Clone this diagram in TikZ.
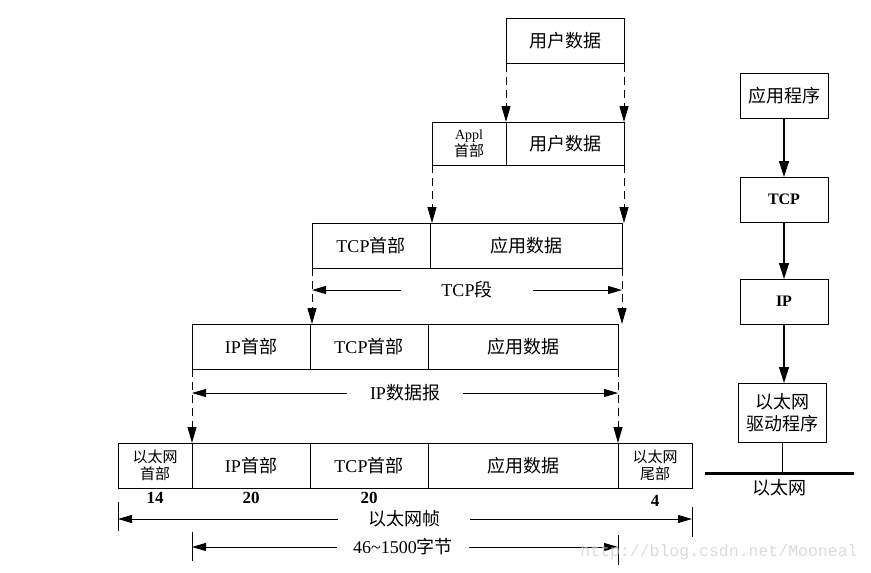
\documentclass[tikz,border=0pt]{standalone}
\usepackage{fontspec}
\setmainfont{Liberation Serif}
\setmonofont{Liberation Mono}
\newfontfamily\cjk{Noto Sans CJK SC}
\newcommand{\zh}[1]{{\cjk #1}}
\usetikzlibrary{arrows.meta,positioning,calc}

\begin{document}
\begin{tikzpicture}[
  x=1pt, y=-1pt,
  cell/.style={draw, line width=1pt, minimum height=45pt, inner sep=0pt, outer sep=0pt, font=\fontsize{18}{20}\selectfont},
  smallcell/.style={cell, minimum width=74pt, align=center, font=\fontsize{15}{17}\selectfont},
  layerbox/.style={draw, line width=1pt, minimum width=88pt, minimum height=45pt, inner sep=0pt, outer sep=0pt, align=center, font=\fontsize{18}{22}\selectfont},
  dashdown/.style={line width=1pt, dash pattern=on 8pt off 5pt, -{Triangle[length=16pt,width=9pt]}},
  flowarrow/.style={line width=1.1pt, -{Triangle[length=16pt,width=10pt]}},
  dim/.style={line width=1pt, -{Triangle[length=14pt,width=8pt]}},
  dimlab/.style={font=\fontsize{18}{20}\selectfont, inner ysep=0pt},
  dimtick/.style={line width=1pt},
  numlab/.style={font=\bfseries\fontsize{17}{19}\selectfont, inner sep=1pt}
]
\useasboundingbox (0,0) rectangle (871,573);

% user data
\node[cell, minimum width=118pt] (user) at (565,41) {\zh{用户数据}};

% application header + user data
\node[smallcell, minimum height=43pt] (applh) at (469,143.5) {{\fontsize{14}{15}\selectfont Appl}\\\zh{首部}};
\node[cell, minimum width=118pt, minimum height=43pt, right=0pt of applh] (user2) {\zh{用户数据}};

% TCP segment
\node[cell, minimum width=118pt] (tcph) at (371,245.5) {TCP\zh{首部}};
\node[cell, minimum width=192pt, right=0pt of tcph] (data3) {\zh{应用数据}};

% IP datagram
\node[cell, minimum width=118pt] (iph) at (251,346.5) {IP\zh{首部}};
\node[cell, minimum width=118pt, right=0pt of iph] (tcph4) {TCP\zh{首部}};
\node[cell, minimum width=190pt, right=0pt of tcph4] (data4) {\zh{应用数据}};

% Ethernet frame
\node[smallcell] (ethh) at (155,465.5) {\zh{以太网}\\\zh{首部}};
\node[cell, minimum width=118pt, right=0pt of ethh] (iph5) {IP\zh{首部}};
\node[cell, minimum width=118pt, right=0pt of iph5] (tcph5) {TCP\zh{首部}};
\node[cell, minimum width=190pt, right=0pt of tcph5] (data5) {\zh{应用数据}};
\node[smallcell, right=0pt of data5] (etht) {\zh{以太网}\\\zh{尾部}};

\node[numlab, below=3pt of ethh] {14};
\node[numlab, below=3pt of iph5] {20};
\node[numlab, below=3pt of tcph5] {20};
\node[numlab, below=6pt of etht] {4};

% encapsulation
\draw[dashdown] (user.south west) -- (user2.north west);
\draw[dashdown] (user.south east) -- (user2.north east);
\draw[dashdown] (applh.south west) -- (applh.south west |- data3.north);
\draw[dashdown] (user2.south east) -- (user2.south east |- data3.north);
\draw[dashdown] (tcph.south west) -- (tcph.south west |- tcph4.north);
\draw[dashdown] (data3.south east) -- (data3.south east |- data4.north);
\draw[dashdown] (iph.south west) -- (iph5.north west);
\draw[dashdown] (data4.south east) -- (data5.north east);

% lengths
\node[dimlab, inner xsep=40pt] (tcpseg) at (467,290) {TCP\zh{段}};
\draw[dim] (tcpseg.west) -- (tcph.south west |- tcpseg.west);
\draw[dim] (tcpseg.east) -- (data3.south east |- tcpseg.east);

\node[dimlab, inner xsep=23pt] (ipdg) at (405,393) {IP\zh{数据报}};
\draw[dim] (ipdg.west) -- (iph.south west |- ipdg.west);
\draw[dim] (ipdg.east) -- (data4.south east |- ipdg.east);

\node[dimlab, inner xsep=30pt] (frame) at (404,519) {\zh{以太网帧}};
\draw[dim] (frame.west) -- (ethh.south west |- frame.west);
\draw[dim] (frame.east) -- (etht.south east |- frame.east);
\draw[dimtick] (ethh.south west |- 0,502) -- (ethh.south west |- 0,531);
\draw[dimtick] (etht.south east |- 0,507) -- (etht.south east |- 0,537);

\node[dimlab, inner xsep=16pt] (payload) at (403,547) {46{\textasciitilde}1500\zh{字节}};
\draw[dim] (payload.west) -- (iph5.south west |- payload.west);
\draw[dim] (payload.east) -- (data5.south east |- payload.east);
\draw[dimtick] (iph5.south west |- 0,532) -- (iph5.south west |- 0,561);
\draw[dimtick] (data5.south east |- 0,535) -- (data5.south east |- 0,565);

% protocol stack
\node[layerbox] (app) at (784,95.5) {\zh{应用程序}};
\node[layerbox, font=\bfseries\fontsize{16}{18}\selectfont] (tcp) at (784,199.5) {TCP};
\node[layerbox, font=\bfseries\fontsize{16}{18}\selectfont] (ip) at (784,301.5) {IP};
\node[layerbox, minimum height=59pt] (drv) at (782,412.5) {\zh{以太网}\\\zh{驱动程序}};
\draw[flowarrow] (app) -- (tcp);
\draw[flowarrow] (tcp) -- (ip);
\draw[flowarrow] (ip) -- (ip |- drv.north);

\coordinate (busl) at (705,473);
\coordinate (busr) at (854,473);
\draw[line width=1pt] (drv) -- (drv |- busl);
\draw[line width=3pt] (busl) -- (busr);
\node[font=\fontsize{18}{20}\selectfont] (ethnet) at (779,488) {\zh{以太网}};

\node[text=gray!35, opacity=0.8, font=\ttfamily\fontsize{16.5}{18}\selectfont] (wm) at (719,552) {http://blog.csdn.net/Mooneal};
\end{tikzpicture}
\end{document}
